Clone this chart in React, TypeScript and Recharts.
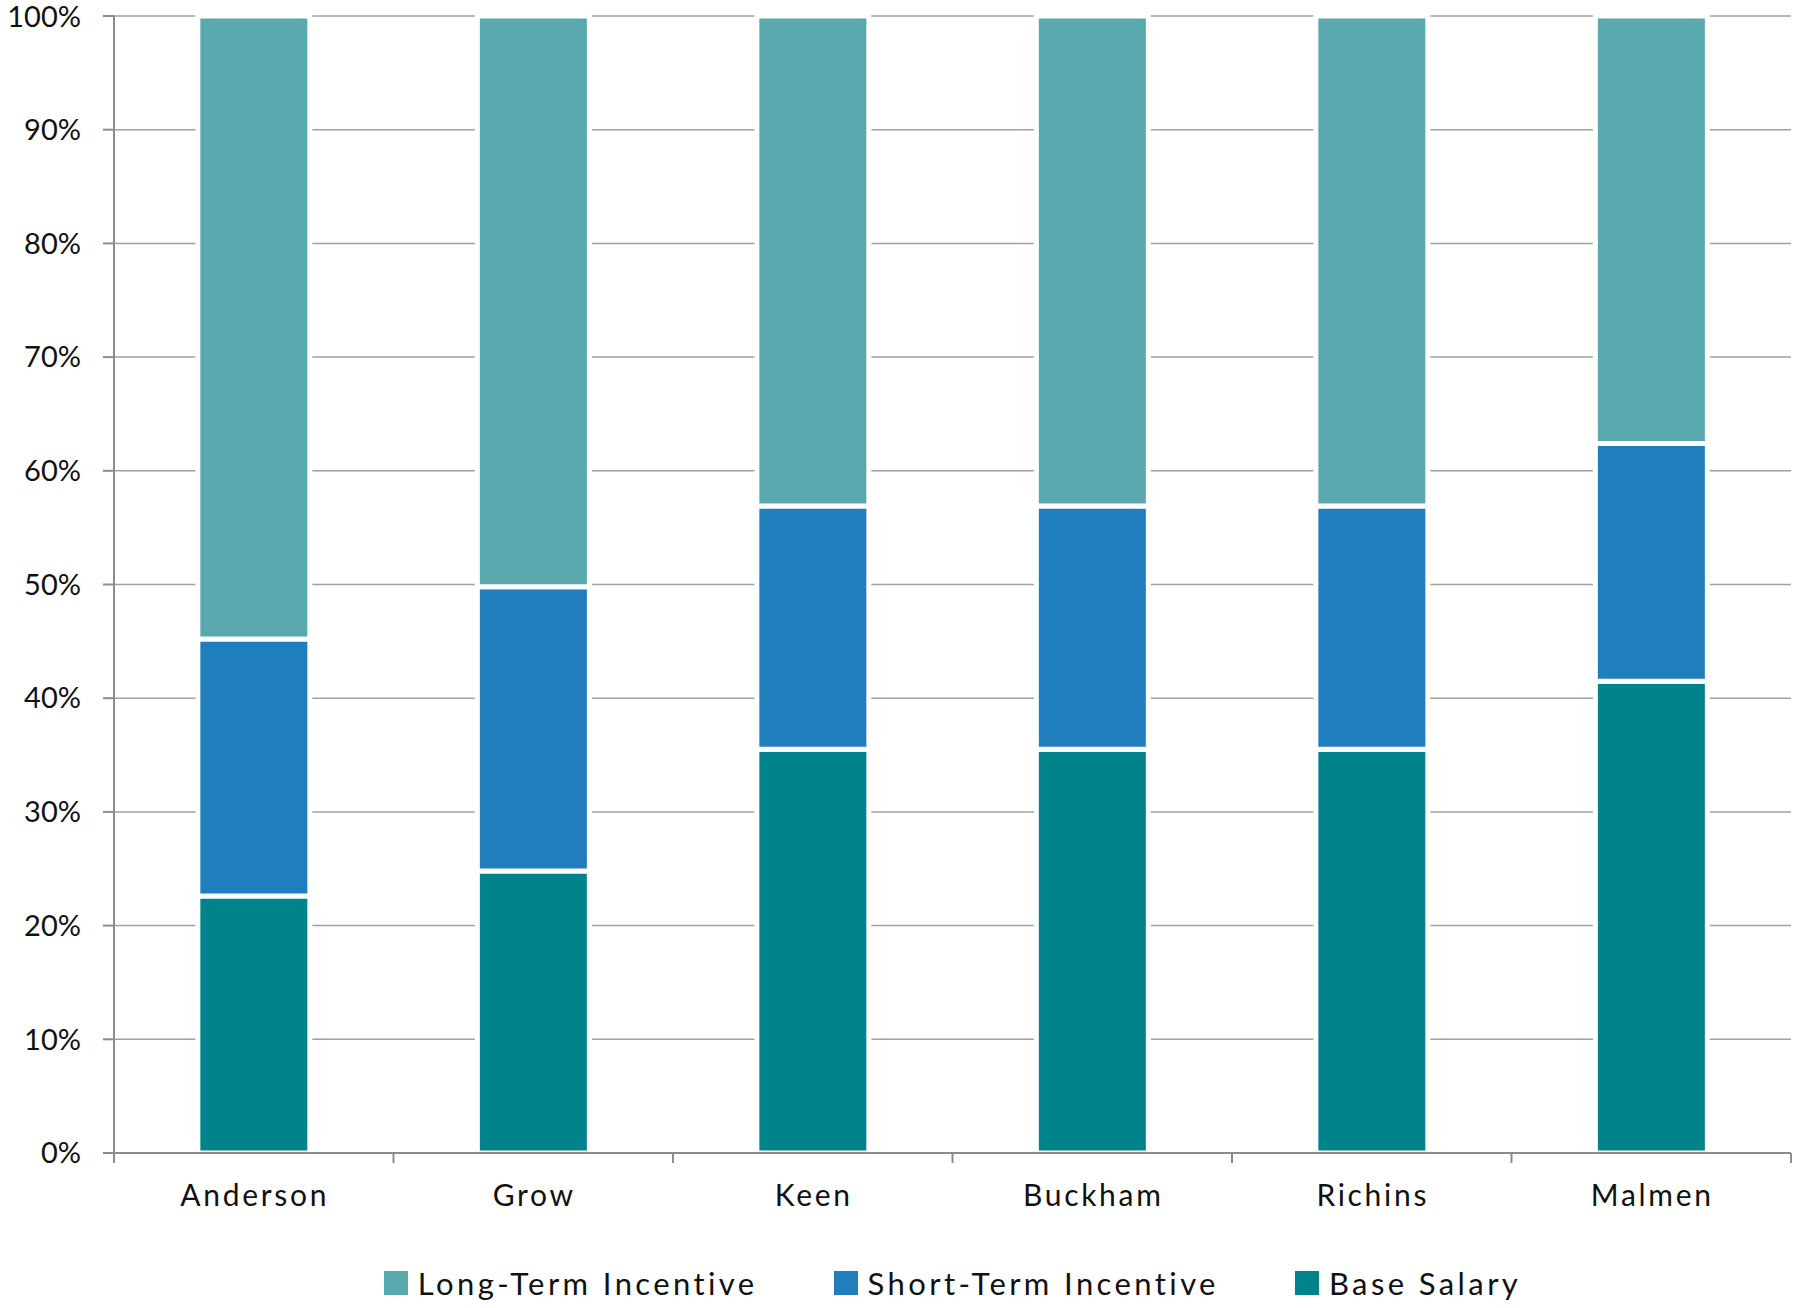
import React from 'react';
import { BarChart, Bar, XAxis, YAxis, CartesianGrid, Legend } from 'recharts';

const names = ['Anderson', 'Grow', 'Keen', 'Buckham', 'Richins', 'Malmen'];
const baseSalary = [22.6, 24.8, 35.5, 35.5, 35.5, 41.5];
const shortTerm = [22.6, 25.0, 21.4, 21.4, 21.4, 20.9];
const longTerm = [54.8, 50.2, 43.1, 43.1, 43.1, 37.6];
const yTicks = [0, 10, 20, 30, 40, 50, 60, 70, 80, 90, 100];

const series = [
  { key: 'lti', name: 'Long-Term Incentive', color: '#58a8ae' },
  { key: 'sti', name: 'Short-Term Incentive', color: '#1f7ebb' },
  { key: 'base', name: 'Base Salary', color: '#00838b' },
];

const data = names.map((name, i) => ({
  name,
  base: baseSalary[i],
  sti: shortTerm[i],
  lti: longTerm[i],
}));

const FONT = 'Lato, "Open Sans", sans-serif';
const AXIS = '#8c8c8c';
const X_TICK = 10;
const X_MARGIN = 22;

function CategoryTick(props: any) {
  const { x, y, payload, index, visibleTicksCount, width } = props;
  const half = payload.offset || width / visibleTicksCount / 2;
  const axisY = y - X_TICK - X_MARGIN;
  return (
    <g>
      <line x1={x - half} x2={x - half} y1={axisY} y2={axisY + X_TICK} stroke={AXIS} strokeWidth={2} />
      {index === visibleTicksCount - 1 && (
        <line x1={x + half} x2={x + half} y1={axisY} y2={axisY + X_TICK} stroke={AXIS} strokeWidth={2} />
      )}
      <text x={x + 1} y={y} dy="0.71em" textAnchor="middle" fill="#111" fontSize={30} fontFamily={FONT} letterSpacing={2.7}>
        {payload.value}
      </text>
    </g>
  );
}

function LegendBox() {
  return (
    <div style={{ height: 40, display: 'flex', justifyContent: 'center', alignItems: 'center', fontFamily: FONT }}>
      {series.map((s, i) => (
        <div key={s.key} style={{ display: 'flex', alignItems: 'center', marginRight: i < series.length - 1 ? 76 : 0 }}>
          <span style={{ width: 24, height: 24, background: s.color, display: 'inline-block', marginRight: 10 }} />
          <span style={{ fontSize: 31, color: '#111', letterSpacing: 3.4 }}>{s.name}</span>
        </div>
      ))}
    </div>
  );
}

export default function App() {
  return (
    <div style={{ position: 'absolute', left: 0, top: 0, background: '#fff' }}>
      <BarChart
        width={1793}
        height={1308}
        data={data}
        margin={{ top: 16, right: 2, bottom: 5, left: 0 }}
        barCategoryGap="30%"
      >
        <CartesianGrid vertical={false} stroke="#a0a0a0" strokeWidth={1.5} />
        <XAxis
          dataKey="name"
          interval={0}
          height={110}
          tickLine={false}
          tickSize={X_TICK}
          tickMargin={X_MARGIN}
          axisLine={{ stroke: AXIS, strokeWidth: 2 }}
          tick={<CategoryTick />}
        />
        <YAxis
          width={114}
          domain={[0, 100]}
          ticks={yTicks}
          tickFormatter={(v) => `${v}%`}
          tickSize={11}
          tickMargin={22}
          axisLine={{ stroke: AXIS, strokeWidth: 2 }}
          tickLine={{ stroke: AXIS, strokeWidth: 2 }}
          tick={{ fill: '#111', fontSize: 29, fontFamily: FONT }}
        />
        <Legend
          verticalAlign="bottom"
          content={<LegendBox />}
          wrapperStyle={{ left: 114, width: 1677 }}
        />
        <Bar dataKey="base" stackId="a" name="Base Salary" fill="#00838b" stroke="#fff" strokeWidth={5} isAnimationActive={false} />
        <Bar dataKey="sti" stackId="a" name="Short-Term Incentive" fill="#1f7ebb" stroke="#fff" strokeWidth={5} isAnimationActive={false} />
        <Bar dataKey="lti" stackId="a" name="Long-Term Incentive" fill="#58a8ae" stroke="#fff" strokeWidth={5} isAnimationActive={false} />
      </BarChart>
    </div>
  );
}
